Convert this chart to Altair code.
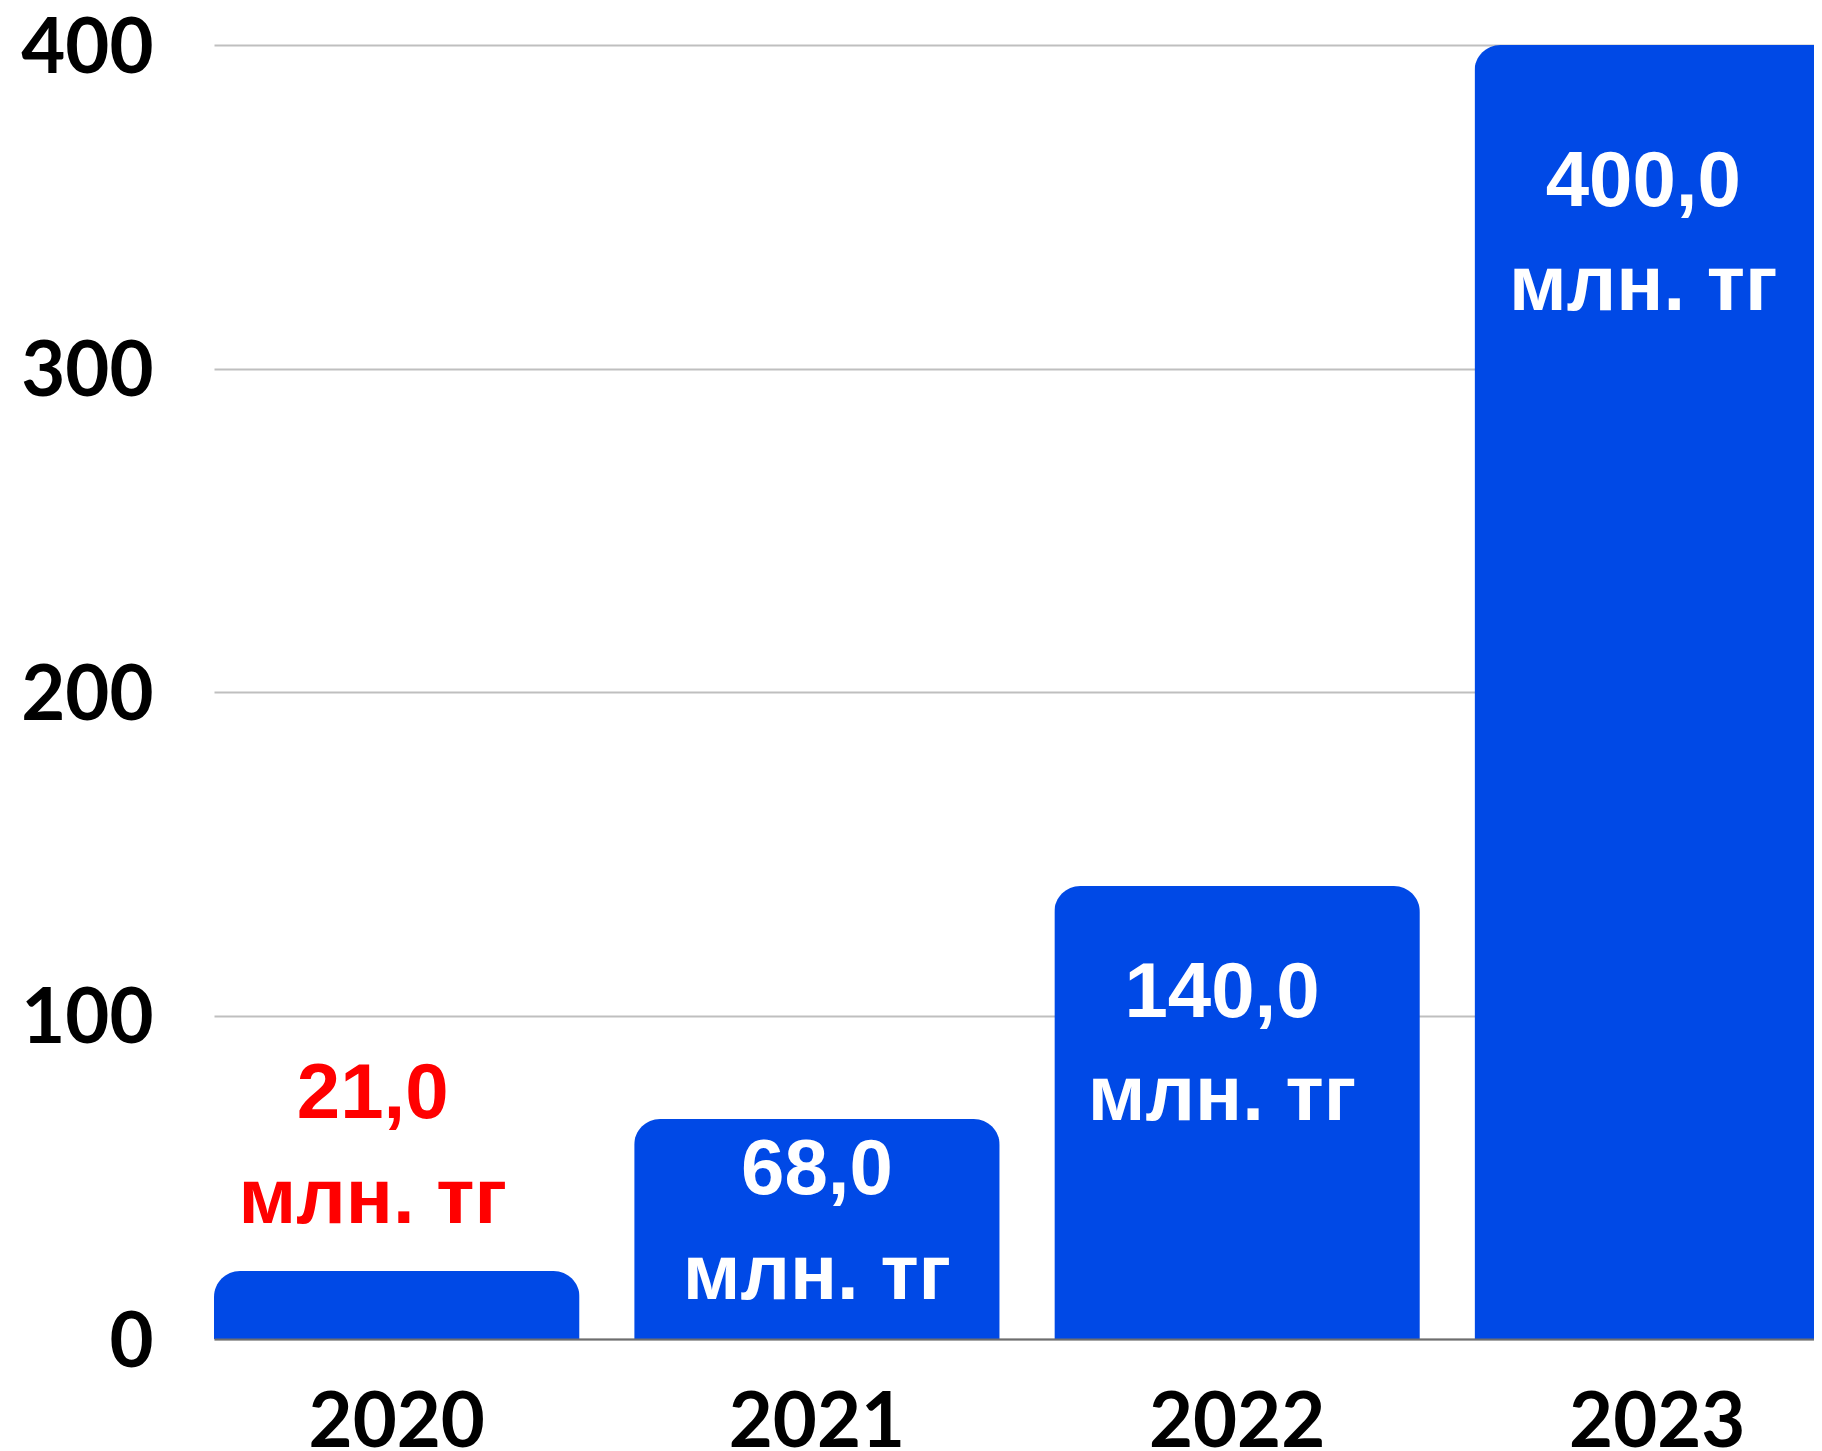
import altair as alt
import pandas as pd

years = ["2020", "2021", "2022", "2023"]
values = [21.0, 68.0, 140.0, 400.0]
value_labels = ["21,0", "68,0", "140,0", "400,0"]
unit_label = "млн. тг"
label_colors = ["#FF0000", "#FFFFFF", "#FFFFFF", "#FFFFFF"]
y_ticks = [0, 100, 200, 300, 400]

df = pd.DataFrame({"year": years, "value": values, "label": value_labels,
                   "unit": [unit_label] * 4})

# label placement (style): per bar (dx, dy of first line, dy of second line)
label_style = {
    "2020": (-24, -153, -48),
    "2021": (0, 75, 180),
    "2022": (-15, 131, 234),
    "2023": (-14, 161, 265),
}

BAR = "#0049E6"
x_enc = alt.X("year:N", sort=years, title=None,
              scale=alt.Scale(range=[0, 1626], paddingInner=0.13, paddingOuter=0),
              axis=alt.Axis(labelAngle=0, labelFont="Lato", labelFontWeight="bold",
                            labelFontSize=76, labelColor="#000000", ticks=False, tickSize=0,
                            labelPadding=107, labelBaseline="alphabetic",
                            domain=True, domainColor="#6E6E6E", domainWidth=2,
                            grid=False, zindex=1))
y_enc = alt.Y("value:Q", title=None,
              scale=alt.Scale(domain=[0, 400], nice=False),
              axis=alt.Axis(values=y_ticks, labelFont="Lato", labelFontWeight="bold",
                            labelFontSize=76, labelColor="#000000", ticks=False, tickSize=0,
                            labelPadding=61, labelBaseline="alphabetic", labelOffset=27,
                            domain=False, grid=True, gridColor="#BFBFBF", gridWidth=2))

base = alt.Chart(df)
bars = base.mark_bar(color=BAR, cornerRadiusTopLeft=26, cornerRadiusTopRight=26).encode(
    x=x_enc, y=y_enc)

layers = [bars]
for i, yr in enumerate(years):
    dx, dy1, dy2 = label_style[yr]
    sub = base.transform_filter(alt.datum.year == yr)
    for field, dy in (("label", dy1), ("unit", dy2)):
        layers.append(
            sub.mark_text(font="Liberation Sans", fontWeight="bold", fontSize=78,
                          align="center", baseline="alphabetic", dx=dx, dy=dy,
                          color=label_colors[i]).encode(
                x=alt.X("year:N", sort=years), y=alt.Y("value:Q"),
                text=alt.Text(f"{field}:N"))
        )

chart = alt.layer(*layers).properties(
    width=1600, height=1294,
    autosize=alt.AutoSizeParams(type="none"),
    padding={"left": 206, "top": 37, "right": 0, "bottom": 112},
    background="#FFFFFF",
).configure_view(stroke=None)

chart.save("out.html", embed_options={"renderer": "svg", "actions": False})
